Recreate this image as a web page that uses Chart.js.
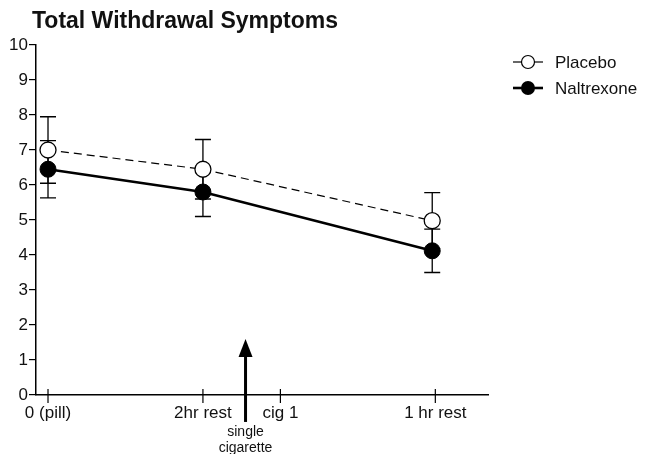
<!DOCTYPE html>
<html>
<head>
<meta charset="utf-8">
<script src="https://cdn.jsdelivr.net/npm/chart.js@4.4.1/dist/chart.umd.min.js"></script>
<style>
  html, body { margin: 0; padding: 0; background: #fff; }
  #wrap { width: 647px; height: 454px; }
</style>
</head>
<body>
<div id="wrap"><canvas id="chart"></canvas></div>
<script>
// x positions (hours-ish) of the labelled time points
const timeLabels = ['0 (pill)', '2hr rest', 'cig 1', '1 hr rest'];
const timePos = [0, 2, 3, 5];

// measurements
const measureX = [0, 2, 4.96];
const placebo = [7.0, 6.45, 4.98];
const placeboErr = [0.95, 0.85, 0.8];
const naltrexone = [6.45, 5.8, 4.12];
const naltrexoneErr = [0.82, 0.7, 0.62];

// "single cigarette" marker
const cigaretteX = 2.55;
const arrowTop = 1.6;
const arrowBottom = -0.77;

const FONT = 'Arial, "Liberation Sans", Helvetica, sans-serif';

const toPoints = (xs, ys) => xs.map((x, i) => ({ x, y: ys[i] }));

const errorBars = {
  id: 'errorBars',
  beforeDatasetsDraw(chart) {
    const { ctx, scales: { x, y } } = chart;
    const sets = [[placebo, placeboErr], [naltrexone, naltrexoneErr]];
    ctx.save();
    ctx.strokeStyle = '#000';
    ctx.lineWidth = 1.3;
    sets.forEach(([vals, errs]) => {
      vals.forEach((v, i) => {
        const px = x.getPixelForValue(measureX[i]);
        const top = y.getPixelForValue(v + errs[i]);
        const bot = y.getPixelForValue(v - errs[i]);
        ctx.beginPath();
        ctx.moveTo(px, top); ctx.lineTo(px, bot);
        ctx.moveTo(px - 8, top); ctx.lineTo(px + 8, top);
        ctx.moveTo(px - 8, bot); ctx.lineTo(px + 8, bot);
        ctx.stroke();
      });
    });
    ctx.restore();
  }
};

const extras = {
  id: 'extras',
  afterDraw(chart) {
    const { ctx, scales: { x, y } } = chart;
    const y0 = y.getPixelForValue(0);
    ctx.save();

    // title
    ctx.fillStyle = '#111';
    ctx.font = 'bold 23px ' + FONT;
    ctx.textBaseline = 'middle';
    ctx.textAlign = 'left';
    ctx.fillText('Total Withdrawal Symptoms', 32, 22);

    // x tick marks crossing the axis
    ctx.strokeStyle = '#000';
    ctx.lineWidth = 1.2;
    timePos.forEach(t => {
      const px = x.getPixelForValue(t);
      ctx.beginPath();
      ctx.moveTo(px, y0 - 6); ctx.lineTo(px, y0 + 8);
      ctx.stroke();
    });

    // arrow
    const ax = x.getPixelForValue(cigaretteX);
    const at = y.getPixelForValue(arrowTop);
    const ab = y.getPixelForValue(arrowBottom);
    ctx.lineWidth = 3;
    ctx.beginPath();
    ctx.moveTo(ax, ab); ctx.lineTo(ax, at + 16);
    ctx.stroke();
    ctx.fillStyle = '#000';
    ctx.beginPath();
    ctx.moveTo(ax, at);
    ctx.lineTo(ax - 7, at + 18);
    ctx.lineTo(ax + 7, at + 18);
    ctx.closePath();
    ctx.fill();

    ctx.fillStyle = '#111';
    ctx.font = '14px ' + FONT;
    ctx.textAlign = 'center';
    ctx.fillText('single', ax, 432);
    ctx.fillText('cigarette', ax, 448);

    // legend
    const lx = 513, lw = 30, cx = lx + lw / 2;
    ctx.strokeStyle = '#000';
    ctx.lineWidth = 1.2;
    ctx.beginPath();
    ctx.moveTo(lx, 62); ctx.lineTo(lx + lw, 62);
    ctx.stroke();
    ctx.fillStyle = '#fff';
    ctx.beginPath();
    ctx.arc(cx, 62, 6.5, 0, Math.PI * 2);
    ctx.fill(); ctx.stroke();

    ctx.lineWidth = 2.6;
    ctx.beginPath();
    ctx.moveTo(lx, 88); ctx.lineTo(lx + lw, 88);
    ctx.stroke();
    ctx.fillStyle = '#000';
    ctx.beginPath();
    ctx.arc(cx, 88, 7, 0, Math.PI * 2);
    ctx.fill();

    ctx.fillStyle = '#111';
    ctx.font = '17px ' + FONT;
    ctx.textAlign = 'left';
    ctx.fillText('Placebo', 555, 63);
    ctx.fillText('Naltrexone', 555, 89);
    ctx.restore();
  }
};

new Chart(document.getElementById('chart'), {
  type: 'line',
  data: {
    datasets: [
      {
        label: 'Placebo',
        data: toPoints(measureX, placebo),
        borderColor: '#000',
        borderWidth: 1.2,
        borderDash: [8, 5],
        pointRadius: 8,
        pointBorderWidth: 1.3,
        pointBackgroundColor: '#fff',
        pointBorderColor: '#000',
        tension: 0
      },
      {
        label: 'Naltrexone',
        data: toPoints(measureX, naltrexone),
        borderColor: '#000',
        borderWidth: 2.6,
        pointRadius: 8,
        pointBorderWidth: 1,
        pointBackgroundColor: '#000',
        pointBorderColor: '#000',
        tension: 0
      }
    ]
  },
  options: {
    responsive: true,
    maintainAspectRatio: false,
    animation: false,
    layout: { padding: { top: 45, right: 159, left: 0, bottom: 0 } },
    plugins: { legend: { display: false }, title: { display: false }, tooltip: { enabled: false } },
    scales: {
      x: {
        type: 'linear',
        min: -0.155,
        max: 5.68,
        afterBuildTicks: s => { s.ticks = timePos.map(v => ({ value: v })); },
        afterFit: s => { s.height = 59; },
        grid: { display: true, drawOnChartArea: false, drawTicks: false },
        border: { display: true, color: '#000', width: 1.5 },
        ticks: {
          autoSkip: false,
          maxRotation: 0,
          padding: 8,
          color: '#111',
          font: { family: FONT, size: 17 },
          callback: v => timeLabels[timePos.indexOf(v)]
        }
      },
      y: {
        min: 0,
        max: 10,
        afterFit: s => { s.width = 36; },
        grid: { drawOnChartArea: false, drawTicks: true, tickLength: 7, color: '#000', lineWidth: 1.2 },
        border: { display: true, color: '#000', width: 1.5 },
        ticks: {
          stepSize: 1,
          padding: 1,
          color: '#111',
          font: { family: FONT, size: 17 }
        }
      }
    }
  },
  plugins: [errorBars, extras]
});
</script>
</body>
</html>
